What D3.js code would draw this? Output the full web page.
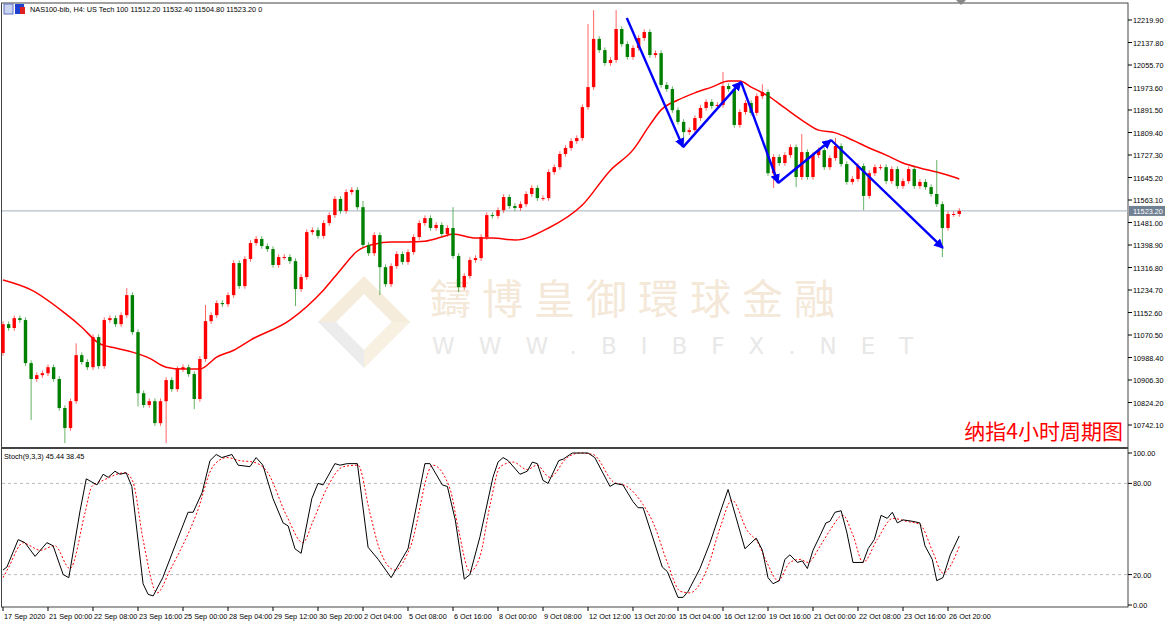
<!DOCTYPE html>
<html>
<head>
<meta charset="utf-8">
<script src="https://cdn.jsdelivr.net/npm/d3@7"></script>
<style>
  body { margin: 0; background: #fff; }
  svg { display: block; font-family: "Liberation Sans", Arial, sans-serif; }
</style>
</head>
<body>
<svg id="chart" width="1170" height="624"></svg>
<script>
// NAS100 H4 closes (oldest first)
const firstOpen = 11005;
const closes = [
  11110, 11096, 11132, 11125, 10968, 10910, 10924, 10931, 10953, 10910,
  10804, 10731, 10829, 10997, 10972, 10953, 11063, 10957, 11125, 11132,
  11110, 11143, 11216, 11081, 10858, 10815, 10829, 10749, 10829, 10906,
  10873, 10946, 10953, 10928, 10837, 10983, 11121, 11143, 11187, 11183,
  11216, 11333, 11249, 11348, 11406, 11421, 11395, 11384, 11326, 11355,
  11355, 11340, 11238, 11282, 11446, 11453, 11432, 11479, 11508, 11567,
  11523, 11592, 11600, 11537, 11399, 11369, 11435, 11318, 11256, 11322,
  11366, 11337, 11373, 11428, 11479, 11497, 11461, 11472, 11439, 11461,
  11359, 11245, 11286, 11344, 11351, 11428, 11508, 11505, 11526, 11574,
  11541, 11534, 11548, 11585, 11607, 11570, 11570, 11665, 11683, 11731,
  11753, 11778, 11789, 11902, 11975, 12151, 12110, 12063, 12074, 12187,
  12132, 12085, 12118, 12154, 12176, 12092, 12099, 11983, 11968, 11891,
  11848, 11811, 11818, 11862, 11899, 11921, 11906, 11910, 11979, 11968,
  11837, 11884, 11917, 11881, 11942, 11957, 11661, 11720, 11698, 11727,
  11756, 11647, 11738, 11647, 11727, 11745, 11683, 11716, 11760, 11694,
  11629, 11640, 11687, 11578, 11661, 11683, 11683, 11632, 11676, 11614,
  11632, 11676, 11614, 11629, 11610, 11585, 11548, 11461, 11512, 11512,
  11523.2
];
// long wicks that stand out
const highIdx = [13, 22, 36, 64, 80, 104, 105, 109, 128, 135, 142, 148, 166];
const highVal = [11040, 11242, 11180, 11560, 11537, 12205, 12256, 12256, 12030, 11985, 11804, 11790, 11709];
const lowIdx = [5, 11, 24, 29, 34, 52, 67, 81, 121, 137, 141, 153, 167];
const lowVal = [10760, 10676, 10810, 10676, 10800, 11176, 11216, 11227, 11753, 11607, 11610, 11526, 11355];
const wick = 10;

// moving average samples (bar, price)
const maBars = [0, 5, 11, 14, 17, 20, 23, 26, 29, 32, 35, 38, 41, 44, 51, 57, 60, 63, 66, 69, 72, 75, 78, 80, 84, 87, 91, 97, 103, 108, 112, 115, 117, 120, 123, 126, 129, 131, 133, 136, 139, 142, 145, 148, 151, 154, 157, 160, 163, 166, 169, 170];
const maVals = [11271, 11235, 11150, 11099, 11041, 11023, 11008, 10986, 10953, 10946, 10946, 10990, 11015, 11052, 11125, 11235, 11308, 11377, 11402, 11410, 11410, 11413, 11428, 11439, 11424, 11424, 11417, 11461, 11545, 11672, 11746, 11837, 11892, 11928, 11954, 11975, 11997, 11997, 11975, 11943, 11899, 11855, 11818, 11808, 11782, 11753, 11727, 11698, 11680, 11665, 11647, 11640];

// hand-drawn trend arrows (bar, price)
const trendBars = [110.9, 120.9, 131.2, 137.8, 147.2, 167.1];
const trendVals = [12227, 11756, 11994, 11625, 11782, 11388];

// Stochastic %K and %D samples
const kBars = [0, 0.7, 2.7, 3.9, 5.7, 7.8, 8.9, 10.7, 11.7, 13.7, 14.8, 16.7, 17.8, 18.7, 19.9, 20.8, 21.9, 22.9, 24.9, 25.8, 26.7, 28.4, 31, 32.9, 33.8, 35.4, 36.8, 37.9, 38.9, 40.7, 41.8, 43.9, 45, 46.2, 48, 49.8, 50.7, 51.9, 53, 54.9, 56, 56.9, 59, 59.9, 61.2, 63, 64.9, 66.7, 69, 72, 75, 75.9, 78.1, 79, 80.4, 82, 83, 84.8, 87.1, 88, 88.9, 89.8, 91.9, 93.2, 94.1, 95, 96, 96.9, 98.8, 99.6, 101.2, 102.6, 104, 105.2, 107.9, 108.8, 110.2, 112, 112.9, 113.8, 117.2, 118.1, 120, 120.9, 121.8, 123.9, 125.7, 127.5, 128.9, 131.9, 133.9, 135, 136, 136.9, 138, 139, 139.9, 141.2, 142.1, 143, 144, 145.3, 146.3, 147, 147.9, 149, 150, 151.1, 152.9, 153.8, 154.9, 156.1, 157.2, 158.1, 159, 160, 161.8, 163, 163.9, 165.2, 166, 167.1, 168.4, 170];
const kVals = [23, 25, 43, 41, 32, 41, 39, 20, 18, 62, 83, 79, 86, 84, 88, 86, 87, 78, 14, 7, 6, 18, 43, 61, 61, 74, 95, 99, 97, 99, 92, 91, 97, 92, 70, 54, 52, 37, 34, 70, 80, 79, 93, 92, 93, 93, 38, 30, 18, 37, 93, 93, 79, 78, 56, 17, 20, 45, 84, 94, 97, 95, 86, 88, 94, 93, 82, 80, 95, 96, 100, 100, 100, 97, 78, 80, 79, 68, 64, 64, 25, 22, 5, 5, 9, 24, 41, 61, 76, 37, 44, 36, 18, 14, 16, 30, 33, 28, 29, 24, 36, 46, 54, 55, 61, 62, 48, 28, 28, 37, 43, 59, 57, 61, 54, 56, 55, 54, 39, 30, 16, 18, 33, 45.44];
const dBars = [0, 0.9, 3.6, 4.8, 6.6, 9.2, 11.9, 14.6, 15.8, 17.8, 21.7, 23.1, 24.9, 27.4, 29.7, 34.5, 37.3, 39.8, 42.1, 44.5, 46.9, 50.5, 53.3, 55.1, 57.6, 60.5, 63.1, 65.2, 67, 69.7, 72.4, 76.4, 79.5, 80.9, 83, 84.8, 86.6, 88.4, 90.7, 93.2, 94.9, 97.2, 100.3, 102.6, 104.9, 108.5, 110.9, 113.8, 115.6, 118.1, 120.4, 122.1, 125.2, 127.5, 129.6, 132.3, 134.2, 135.8, 137.8, 139.9, 141.7, 143.1, 145.3, 147, 149.3, 151.1, 152.9, 155.4, 158.2, 160.7, 163, 165.3, 167.1, 170];
const dVals = [18, 24, 41, 39, 36, 39, 24, 61, 78, 82, 87, 81, 43, 8, 23, 61, 91, 97, 95, 94, 88, 58, 41, 55, 77, 91, 92, 61, 36, 23, 38, 92, 76, 51, 22, 32, 66, 91, 94, 89, 92, 84, 97, 100, 99, 81, 78, 66, 54, 28, 9, 8, 24, 51, 69, 49, 41, 28, 16, 28, 30, 28, 39, 49, 59, 46, 28, 43, 57, 55, 53, 35, 21, 38.45];

const priceTicks = [12219.9, 12137.8, 12055.7, 11973.6, 11891.5, 11809.4, 11727.3, 11645.2, 11563.1, 11481.0, 11398.9, 11316.8, 11234.7, 11152.6, 11070.5, 10988.4, 10906.3, 10824.2, 10742.1];
const stochTicks = [100, 80, 20, 0];
const timeBars = [0, 8, 16, 24, 32, 40, 48, 56, 64, 72, 80, 88, 96, 104, 112, 120, 128, 136, 144, 152, 160, 168];
const timeLabels = ["17 Sep 2020", "21 Sep 00:00", "22 Sep 08:00", "23 Sep 16:00", "25 Sep 00:00", "28 Sep 04:00", "29 Sep 12:00", "30 Sep 20:00", "2 Oct 04:00", "5 Oct 08:00", "6 Oct 16:00", "8 Oct 00:00", "9 Oct 08:00", "12 Oct 12:00", "13 Oct 20:00", "15 Oct 04:00", "16 Oct 12:00", "19 Oct 16:00", "21 Oct 00:00", "22 Oct 08:00", "23 Oct 16:00", "26 Oct 20:00"];

const svg = d3.select("#chart");
const right = 1128;
const mainTop = 3, mainBot = 448, stBot = 607;
const fs = 7.3;

const x = d3.scaleLinear().domain([0, 170]).range([3, 959.25]);
const y = d3.scaleLinear().domain([10742.1, 12219.9]).range([425, 20]);
const ys = d3.scaleLinear().domain([0, 100]).range([605, 453]);

const bars = closes.map((c, i) => {
  const o = i === 0 ? firstOpen : closes[i - 1];
  let h = Math.max(o, c) + wick, l = Math.min(o, c) - wick;
  const hi = highIdx.indexOf(i); if (hi >= 0) h = Math.max(h, highVal[hi]);
  const li = lowIdx.indexOf(i); if (li >= 0) l = Math.min(l, lowVal[li]);
  return { i, o, c, h, l };
});

// watermark
const wm = svg.append("g");
wm.append("polygon").attr("points", "318,322 364,276 410,322 392,322 364,294 336,322").attr("fill", "#f6ecdc");
wm.append("polygon").attr("points", "318,322 364,368 410,322 392,322 364,350 336,322").attr("fill", "#ececec");
wm.append("polygon").attr("points", "364,368 410,322 392,322 364,350").attr("fill", "#f8f0e0");
wm.append("text").attr("x", 430).attr("y", 314).attr("font-family", "Noto Sans CJK TC")
  .attr("font-size", 41).attr("fill", "#f4e8d8").attr("letter-spacing", 11).text("鑄博皇御環球金融");
wm.append("text").attr("x", 432).attr("y", 354).attr("font-family", "DejaVu Sans")
  .attr("font-size", 23).attr("fill", "#e8e8e8").attr("letter-spacing", 24).text("WWW.BIBFX.NET");

// frames
svg.append("rect").attr("x", 1.5).attr("y", mainTop).attr("width", right - 1.5).attr("height", stBot - mainTop)
  .attr("fill", "none").attr("stroke", "#444").attr("stroke-width", 1);
svg.append("line").attr("x1", 1).attr("x2", right).attr("y1", mainBot).attr("y2", mainBot)
  .attr("stroke", "#444").attr("stroke-width", 2);

// price axis
const axG = svg.append("g").attr("font-size", fs).attr("fill", "#000");
priceTicks.forEach(p => {
  axG.append("line").attr("x1", right).attr("x2", right + 4).attr("y1", y(p)).attr("y2", y(p)).attr("stroke", "#000");
  axG.append("text").attr("x", right + 5).attr("y", y(p) + 3).text(p.toFixed(2));
});
stochTicks.forEach(v => {
  axG.append("line").attr("x1", right).attr("x2", right + 4).attr("y1", ys(v)).attr("y2", ys(v)).attr("stroke", "#000");
  axG.append("text").attr("x", right + 5).attr("y", ys(v) + 3).text(v.toFixed(2));
  if (v === 80 || v === 20) svg.append("line").attr("x1", 2).attr("x2", right).attr("y1", ys(v)).attr("y2", ys(v))
    .attr("stroke", "#bbb").attr("stroke-dasharray", "3,3");
});

// time axis
timeBars.forEach((b, k) => {
  svg.append("line").attr("x1", x(b)).attr("x2", x(b)).attr("y1", stBot).attr("y2", stBot + 4).attr("stroke", "#000");
  svg.append("text").attr("x", x(b) + 1).attr("y", 619).attr("font-size", fs).text(timeLabels[k]);
});

// current price line and label
const last = closes[closes.length - 1];
svg.append("line").attr("x1", 2).attr("x2", right).attr("y1", y(last)).attr("y2", y(last)).attr("stroke", "#b4c0c8").attr("stroke-width", 1.3);
svg.append("rect").attr("x", right + 1).attr("y", y(last) - 5).attr("width", 36).attr("height", 10).attr("fill", "#6f8193");
svg.append("text").attr("x", right + 5).attr("y", y(last) + 3).attr("font-size", fs).attr("fill", "#fff").text(last.toFixed(2));

// MA
svg.append("path").datum(maBars.map((b, k) => [b, maVals[k]]))
  .attr("d", d3.line().x(d => x(d[0])).y(d => y(d[1])).curve(d3.curveMonotoneX))
  .attr("fill", "none").attr("stroke", "#ff0000").attr("stroke-width", 1.5);

// candles: red = up, green = down
const cg = svg.append("g");
bars.forEach(d => {
  const col = d.c >= d.o ? "#ff0000" : "#008000";
  cg.append("line").attr("x1", x(d.i)).attr("x2", x(d.i)).attr("y1", y(d.h)).attr("y2", y(d.l))
    .attr("stroke", col).attr("stroke-opacity", 0.6);
  const top = y(Math.max(d.o, d.c)), bot = y(Math.min(d.o, d.c));
  cg.append("rect").attr("x", x(d.i) - 1.7).attr("width", 3.4).attr("y", top).attr("height", Math.max(1, bot - top)).attr("fill", col);
});

// trend arrows
svg.append("defs").append("marker").attr("id", "ah").attr("viewBox", "0 0 10 10").attr("refX", 9).attr("refY", 5)
  .attr("markerWidth", 4).attr("markerHeight", 4).attr("orient", "auto")
  .append("path").attr("d", "M0,0 L10,5 L0,10 z").attr("fill", "#0000ff");
for (let k = 0; k < trendBars.length - 1; k++) {
  svg.append("line").attr("x1", x(trendBars[k])).attr("y1", y(trendVals[k]))
    .attr("x2", x(trendBars[k + 1])).attr("y2", y(trendVals[k + 1]))
    .attr("stroke", "#0000ff").attr("stroke-width", 2.4).attr("marker-end", "url(#ah)");
}

// stochastic
svg.append("path").datum(dBars.map((b, k) => [b, dVals[k]]))
  .attr("d", d3.line().x(d => x(d[0])).y(d => ys(d[1])).curve(d3.curveMonotoneX))
  .attr("fill", "none").attr("stroke", "#ff0000").attr("stroke-dasharray", "2,2");
svg.append("path").datum(kBars.map((b, k) => [b, kVals[k]]))
  .attr("d", d3.line().x(d => x(d[0])).y(d => ys(d[1])))
  .attr("fill", "none").attr("stroke", "#000").attr("stroke-width", 1);

// labels
svg.append("rect").attr("x", 4).attr("y", 4).attr("width", 9).attr("height", 10).attr("fill", "#c8d4f0").attr("stroke", "#6070c0");
svg.append("rect").attr("x", 15).attr("y", 4).attr("width", 9).attr("height", 10).attr("fill", "#2040d0");
svg.append("rect").attr("x", 20).attr("y", 7).attr("width", 5).attr("height", 7).attr("fill", "#e02020");
svg.append("text").attr("x", 30).attr("y", 12).attr("font-size", fs)
  .text("NAS100-bib, H4:  US Tech 100  11512.20 11532.40 11504.80 11523.20  0");
svg.append("text").attr("x", 4).attr("y", 459).attr("font-size", fs).text("Stoch(9,3,3) 45.44 38.45");
svg.append("text").attr("x", 1123).attr("y", 439).attr("text-anchor", "end").attr("font-family", "Noto Sans CJK SC")
  .attr("font-size", 21).attr("fill", "#ff0000").text("纳指4小时周期图");
svg.append("polygon").attr("points", "956,0 966,0 961,5").attr("fill", "#888");
</script>
</body>
</html>
